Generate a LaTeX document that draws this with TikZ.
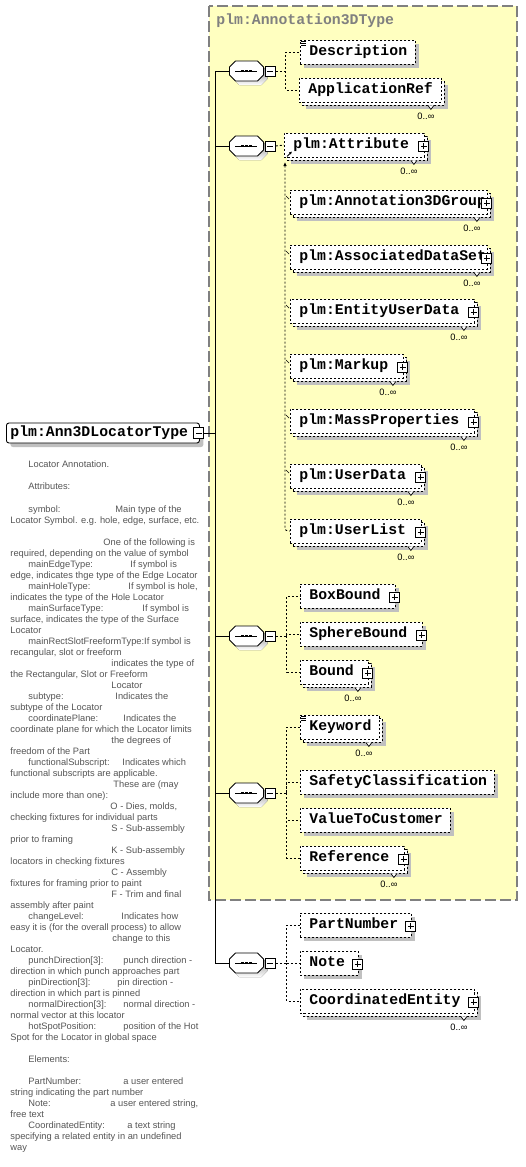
\documentclass[tikz,border=0pt]{standalone}
\usepackage{fontspec}
\newfontfamily\xsdmono{Liberation Mono}
\newfontfamily\xsdsans{Liberation Sans}
\usetikzlibrary{positioning,shadows,arrows.meta}

\definecolor{typefill}{RGB}{255,255,192}
\definecolor{typeline}{RGB}{128,128,128}
\definecolor{shade}{RGB}{192,192,192}
\definecolor{doctext}{RGB}{85,85,85}

% little marks hanging on an element node
\newcommand{\expander}[1]{\node[plusbox] (#1-plus) at ([xshift=-1pt,yshift=-1pt]#1.east) {};}
\newcommand{\occurs}[1]{%
	\draw[fill=white,line width=.7pt] ([xshift=-14pt,yshift=-3pt]#1.south east) -- ++(3,4) -- ++(3,-4);
	\node[occ] (#1-occ) at ([xshift=-16pt,yshift=-14pt]#1.south east) {0..∞};}
\newcommand{\docmark}[1]{\foreach \dd in {2,4,6} \draw[line width=.6pt] ([xshift=1pt,yshift=-\dd pt]#1.north west) -- ++(5,0);}
% sequence compositor
\newcommand{\octagon}[1]{%
	\fill[shade] ([shift={(4,4)}]#1.center) ++(-17,-4) -- ++(6,-6) -- ++(22,0) -- ++(6,6) -- ++(0,8) -- ++(-6,6) -- ++(-22,0) -- ++(-6,-6) -- cycle;
	\filldraw[fill=white] (#1.center) ++(-17,-4) -- ++(6,-6) -- ++(22,0) -- ++(6,6) -- ++(0,8) -- ++(-6,6) -- ++(-22,0) -- ++(-6,-6) -- cycle;
	\draw (#1.center) ++(-11,0) -- ++(22,0);
	\foreach \dx in {-4,0,4} \fill ([xshift=\dx pt]#1.center) +(-1.4,-1.4) rectangle +(1.4,1.4);}

\begin{document}
\begin{tikzpicture}[x=1pt,y=-1pt,line width=.9pt,
	elem/.style={draw,fill=white,dash pattern=on 2pt off 2pt,anchor=west,align=left,
		font=\xsdmono\bfseries\fontsize{14.8}{16}\selectfont,
		inner xsep=9pt,inner ysep=0pt,text height=10pt,text depth=3pt,minimum height=24pt,
		drop shadow={shadow xshift=4pt,shadow yshift=-4pt,fill=shade,opacity=1}},
	multi/.style={drop shadow={shadow xshift=7pt,shadow yshift=-7pt,fill=shade,opacity=1},
		general shadow={shadow xshift=3pt,shadow yshift=-3pt,draw=black,fill=white,dash pattern=on 2pt off 2pt}},
	root/.style={draw,fill=white,rounded corners=2.5pt,anchor=west,align=left,
		font=\xsdmono\bfseries\fontsize{14.8}{16}\selectfont,
		inner xsep=4pt,inner ysep=0pt,text height=10pt,text depth=3pt,minimum height=20pt,
		drop shadow={shadow xshift=4pt,shadow yshift=-4pt,fill=shade,opacity=1}},
	seq/.style={minimum width=34pt,minimum height=20pt,inner sep=0pt,anchor=west},
	signbox/.style={draw,fill=white,solid,minimum size=10pt,inner sep=0pt},
	minusbox/.style={signbox,
		path picture={\draw ([xshift=2pt]path picture bounding box.west) -- ([xshift=-2pt]path picture bounding box.east);}},
	plusbox/.style={signbox,
		path picture={\draw ([xshift=2pt]path picture bounding box.west) -- ([xshift=-2pt]path picture bounding box.east)
			([yshift=-2pt]path picture bounding box.north) -- ([yshift=2pt]path picture bounding box.south);}},
	branch/.style={dash pattern=on 2pt off 2pt},
	occ/.style={font=\xsdsans\fontsize{9.3}{11}\selectfont,inner sep=0pt},
	doc/.style={font=\xsdsans\fontsize{9.3}{11}\selectfont,text=doctext,anchor=base west,inner sep=0pt}
]
	\useasboundingbox (0,0) rectangle (525,1167);

	% complex type
	\draw[typeline,fill=typefill,dash pattern=on 11pt off 4pt,line width=1.2pt] (209,6) rectangle (517,900);
	\node[anchor=west,text=typeline,font=\xsdmono\bfseries\fontsize{14.8}{16}\selectfont,inner sep=0pt] (typename) at (216,21) {plm:Annotation3DType};

	% root element
	\node[root,text width=185pt] (ann3d) at (6,433) {plm:Ann3DLocatorType};
	\node[minusbox,minimum height=11pt] (ann3d-m) at ([xshift=-1pt]ann3d.east) {};

	% sequences on the spine
	\coordinate (spine) at (215,0);
	\foreach \s/\yy in {A/71,B/146,C/636,D/793,E/963}{
		\node[seq] (seq\s) at (229,\yy) {};
		\octagon{seq\s}
		\node[minusbox,right=1pt of seq\s] (seq\s-m) {};
		\draw (seq\s.west) -- (seq\s.west -| spine);
	}
	\draw (ann3d-m.east) -- (ann3d-m.east -| spine);
	\draw (seqA.west -| spine) -- (seqE.west -| spine);

	% first sequence
	\node[elem,text width=97pt] (description) at (300,52) {Description};
	\docmark{description}
	\node[elem,multi,text width=124pt] (applicationref) at (299,90) {ApplicationRef};
	\occurs{applicationref}
	\draw[branch] (seqA-m.east) -- ++(10,0) coordinate (forkA) |- (description.west);
	\draw[branch] (forkA) |- (applicationref.west);

	% second sequence, substitution group
	\node[elem,multi,text width=122pt] (attribute) at (284,145) {plm:Attribute};
	\expander{attribute}
	\occurs{attribute}
	\draw[branch] (seqB-m.east) -- (attribute.west);
	\foreach \nm/\yy/\ww/\txt in {group/202/179/Annotation3DGroup,dataset/257/179/AssociatedDataSet,
		entity/311/166/EntityUserData,markup/366/95/Markup,mass/421/166/MassProperties,
		userdata/476/113/UserData,userlist/531/113/UserList}{
		\node[elem,multi,text width=\ww pt] (\nm) at (290,\yy) {plm:\txt};
		\expander{\nm}
		\occurs{\nm}
	}
	\coordinate (subtop) at (285,162);
	\draw[branch,rounded corners=3pt,{Latex[length=4pt,width=3.5pt]}-] (subtop) |- (userlist.west);
	\foreach \nm in {group,dataset,entity,markup,mass,userdata}
		\draw[line width=.7pt] (\nm.west) ++(-4,-6) -- ++(3,3);
	\draw[line width=.8pt,-{Latex[length=3pt,width=3pt]}] ([xshift=3pt,yshift=1pt]attribute.south west) -- ++(5,-5);

	% third sequence
	\node[elem,text width=77pt] (boxbound) at (300,596) {BoxBound};
	\expander{boxbound}
	\node[elem,text width=104pt] (spherebound) at (300,634) {SphereBound};
	\expander{spherebound}
	\node[elem,multi,text width=50pt] (bound) at (300,672) {Bound};
	\expander{bound}
	\occurs{bound}
	\draw[branch] (seqC-m.east) -- ++(11,0) coordinate (forkC) |- (boxbound.west);
	\draw[branch] (forkC) |- (spherebound.west) (forkC) |- (bound.west);

	% fourth sequence
	\node[elem,multi,text width=61pt] (keyword) at (300,727) {Keyword};
	\docmark{keyword}
	\occurs{keyword}
	\node[elem,text width=176pt] (safety) at (300,782) {SafetyClassification};
	\node[elem,text width=132pt] (customer) at (300,820) {ValueToCustomer};
	\node[elem,multi,text width=86pt] (reference) at (300,858) {Reference};
	\expander{reference}
	\occurs{reference}
	\draw[branch] (seqD-m.east) -- ++(11,0) coordinate (forkD) |- (keyword.west);
	\draw[branch] (forkD) |- (safety.west) (forkD) |- (customer.west) (forkD) |- (reference.west);

	% fifth sequence
	\node[elem,text width=93pt] (partnumber) at (300,925) {PartNumber};
	\expander{partnumber}
	\node[elem,text width=40pt] (note) at (300,963) {Note};
	\expander{note}
	\node[elem,multi,text width=156pt] (coordinated) at (300,1001) {CoordinatedEntity};
	\expander{coordinated}
	\occurs{coordinated}
	\draw[branch] (seqE-m.east) -- ++(11,0) coordinate (forkE) |- (partnumber.west);
	\draw[branch] (forkE) |- (note.west) (forkE) |- (coordinated.west);

	% annotation of the root element
	\foreach \lx/\ly/\ltxt [count=\k] in {28/463/{Locator Annotation.},
		28/485/{Attributes:},
		28/508/{symbol:}, 115/508/{Main type of the},
		10/519/{Locator Symbol. e.g. hole, edge, surface, etc.},
		103/541/{One of the following is},
		10/552/{required, depending on the value of symbol},
		28/563/{mainEdgeType:}, 130/563/{If symbol is},
		10/574/{edge, indicates thge type of the Edge Locator},
		28/585/{mainHoleType:}, 128/585/{If symbol is hole,},
		10/596/{indicates the type of the Hole Locator},
		28/607/{mainSurfaceType:}, 142/607/{If symbol is},
		10/618/{surface, indicates the type of the Surface},
		10/629/{Locator},
		28/640/{mainRectSlotFreeformType:If symbol is},
		10/651/{recangular, slot or freeform},
		111/662/{indicates the type of},
		10/673/{the Rectangular, Slot or Freeform},
		111/684/{Locator},
		28/695/{subtype:}, 115/695/{Indicates the},
		10/706/{subtype of the Locator},
		28/717/{coordinatePlane:}, 123/717/{Indicates the},
		10/728/{coordinate plane for which the Locator limits},
		111/739/{the degrees of},
		10/750/{freedom of the Part},
		28/761/{functionalSubscript:}, 122/761/{Indicates which},
		10/772/{functional subscripts are applicable.},
		113/783/{These are (may},
		10/794/{include more than one):},
		110/805/{O - Dies, molds,},
		10/816/{checking fixtures for individual parts},
		111/827/{S - Sub-assembly},
		10/838/{prior to framing},
		111/849/{K - Sub-assembly},
		10/860/{locators in checking fixtures},
		111/871/{C - Assembly},
		10/882/{fixtures for framing prior to paint},
		111/893/{F - Trim and final},
		10/904/{assembly after paint},
		28/915/{changeLevel:}, 121/915/{Indicates how},
		10/926/{easy it is (for the overall process) to allow},
		112/937/{change to this},
		10/948/{Locator.},
		28/959/{punchDirection[3]:}, 123/959/{punch direction -},
		10/970/{direction in which punch approaches part},
		28/981/{pinDirection[3]:}, 117/981/{pin direction -},
		10/992/{direction in which part is pinned},
		28/1003/{normalDirection[3]:}, 123/1003/{normal direction -},
		10/1014/{normal vector at this locator},
		28/1025/{hotSpotPosition:}, 123/1025/{position of the Hot},
		10/1036/{Spot for the Locator in global space},
		28/1058/{Elements:},
		28/1080/{PartNumber:}, 123/1080/{a user entered},
		10/1091/{string indicating the part number},
		28/1102/{Note:}, 110/1102/{a user entered string,},
		10/1113/{free text},
		28/1124/{CoordinatedEntity:}, 127/1124/{a text string},
		10/1135/{specifying a related entity in an undefined},
		10/1146/{way}}
		\node[doc] (doc\k) at (\lx,\ly+4) {\ltxt};
\end{tikzpicture}
\end{document}
